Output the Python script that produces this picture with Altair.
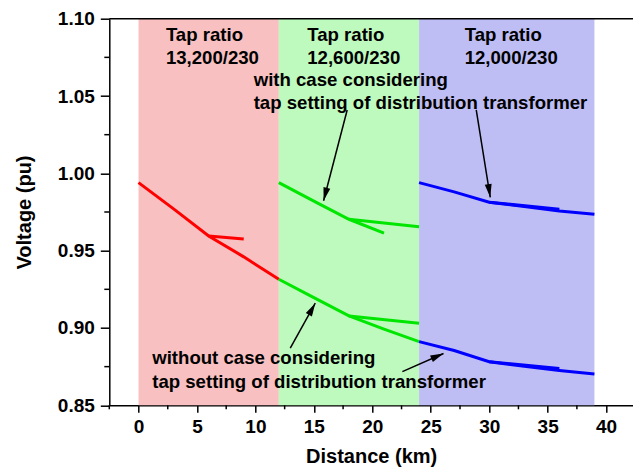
import math
import altair as alt
import pandas as pd

# ---------------- data ----------------
region_start = [0, 12, 24]
region_end = [12, 24, 39]
region_color = ["#F8C0C0", "#BEFABE", "#BEBEF5"]

red_main_x = [0, 3, 6, 9, 12]
red_main_v = [0.994, 0.977, 0.9595, 0.946, 0.9315]
red_branch_x = [6, 9]
red_branch_v = [0.9595, 0.9576]

green_up_main_x = [12, 15, 18, 21]
green_up_main_v = [0.994, 0.982, 0.9703, 0.9613]
green_up_branch_x = [18, 24]
green_up_branch_v = [0.9703, 0.9655]

green_lo_main_x = [12, 15, 18, 21, 24]
green_lo_main_v = [0.9315, 0.9196, 0.9078, 0.8993, 0.8912]
green_lo_branch_x = [18, 24]
green_lo_branch_v = [0.9078, 0.9031]

blue_up_main_x = [24, 27, 30, 33, 36, 39]
blue_up_main_v = [0.994, 0.988, 0.9813, 0.9785, 0.9757, 0.9735]
blue_up_branch_x = [30, 36]
blue_up_branch_v = [0.9813, 0.9768]

blue_lo_main_x = [24, 27, 30, 33, 36, 39]
blue_lo_main_v = [0.8912, 0.8854, 0.8782, 0.8752, 0.8725, 0.8703]
blue_lo_branch_x = [30, 36]
blue_lo_branch_v = [0.8782, 0.8738]

RED, GREEN, BLUE = "#FF0000", "#00E600", "#0000FF"

x_ticks = [0, 5, 10, 15, 20, 25, 30, 35, 40]
x_minor = [-2.5, 2.5, 7.5, 12.5, 17.5, 22.5, 27.5, 32.5, 37.5]
y_ticks = [0.85, 0.90, 0.95, 1.00, 1.05, 1.10]
y_minor = [0.875, 0.925, 0.975, 1.025, 1.075]

label_text = ["Tap ratio", "13,200/230", "Tap ratio", "12,600/230",
              "Tap ratio", "12,000/230",
              "with case considering", "tap setting of distribution transformer",
              "without case considering", "tap setting of distribution transformer"]
label_x = [2.34, 2.34, 14.43, 14.43, 27.9, 27.9, 9.85, 9.85, 1.17, 1.17]
label_v = [1.0853, 1.0704, 1.0853, 1.0704, 1.0853, 1.0704, 1.0568, 1.0413, 0.8768, 0.8612]

arrow_tail_x = [17.85, 28.89, 12.98, 22.57]
arrow_tail_v = [1.0410, 1.0410, 0.887, 0.8718]
arrow_tip_x = [15.83, 30.09, 15.12, 26.09]
arrow_tip_v = [0.9823, 0.9845, 0.916, 0.8835]

# ---------------- layout ----------------
X_MIN, X_MAX = -2.5, 42.3
Y_MIN, Y_MAX = 0.85, 1.10
PAD_L, PAD_T = 109.3, 18.7
W = 633 - PAD_L
H = 405.3 - PAD_T
PAD_B = 476 - PAD_T - H
FONT = "Liberation Sans"

xs = alt.Scale(domain=[X_MIN, X_MAX], nice=False, zero=False)
ys = alt.Scale(domain=[Y_MIN, Y_MAX], nice=False, zero=False)

# ---------------- tables ----------------
regions = pd.DataFrame({"x0": region_start, "x1": region_end, "col": region_color})

segs = [
    ("r_main", red_main_x, red_main_v, RED),
    ("r_br", red_branch_x, red_branch_v, RED),
    ("gu_main", green_up_main_x, green_up_main_v, GREEN),
    ("gu_br", green_up_branch_x, green_up_branch_v, GREEN),
    ("gl_main", green_lo_main_x, green_lo_main_v, GREEN),
    ("gl_br", green_lo_branch_x, green_lo_branch_v, GREEN),
    ("bu_main", blue_up_main_x, blue_up_main_v, BLUE),
    ("bu_br", blue_up_branch_x, blue_up_branch_v, BLUE),
    ("bl_main", blue_lo_main_x, blue_lo_main_v, BLUE),
    ("bl_br", blue_lo_branch_x, blue_lo_branch_v, BLUE),
]
rows = []
for name, xv, vv, c in segs:
    for a, b in zip(xv, vv):
        rows.append({"seg": name, "x": a, "v": b, "col": c})
lines = pd.DataFrame(rows)

labels = pd.DataFrame({"t": label_text, "x": label_x, "v": label_v})

px_km = W / (X_MAX - X_MIN)
px_v = H / (Y_MAX - Y_MIN)
angs = []
for tx, tv, hx, hv in zip(arrow_tail_x, arrow_tail_v, arrow_tip_x, arrow_tip_v):
    dx = (hx - tx) * px_km
    dy = -(hv - tv) * px_v
    angs.append(math.degrees(math.atan2(dx, -dy)) % 360)
arrows = pd.DataFrame({"tx": arrow_tail_x, "tv": arrow_tail_v,
                       "hx": arrow_tip_x, "hv": arrow_tip_v, "ang": angs})

xminor_df = pd.DataFrame({"m": x_minor})
yminor_df = pd.DataFrame({"m": y_minor})
top_df = pd.DataFrame({"v": [Y_MAX]})

# ---------------- layers ----------------
bg = alt.Chart(regions).mark_rect(opacity=1).encode(
    x=alt.X("x0:Q", scale=xs,
            axis=alt.Axis(values=x_ticks, title="Distance (km)", tickSize=7,
                          labelPadding=5, titlePadding=10, grid=False,
                          format="d")),
    x2="x1:Q",
    color=alt.Color("col:N", scale=None),
)

line_layer = alt.Chart(lines).mark_line(strokeWidth=3, strokeCap="butt").encode(
    x=alt.X("x:Q", scale=xs),
    y=alt.Y("v:Q", scale=ys,
            axis=alt.Axis(values=y_ticks, format=".2f", title="Voltage (pu)",
                          tickSize=9, labelPadding=6, titlePadding=23, grid=False)),
    detail="seg:N",
    color=alt.Color("col:N", scale=None),
)

text_layer = alt.Chart(labels).mark_text(
    align="left", baseline="alphabetic", font=FONT, fontWeight="bold",
    fontSize=18.6, color="black"
).encode(x=alt.X("x:Q", scale=xs), y=alt.Y("v:Q", scale=ys), text="t:N")

arrow_lines = alt.Chart(arrows).mark_rule(color="black", strokeWidth=1.5).encode(
    x=alt.X("tx:Q", scale=xs), y=alt.Y("tv:Q", scale=ys), x2="hx:Q", y2="hv:Q"
)

arrow_heads = alt.Chart(arrows).mark_point(
    shape="M0,0L0.45,1.7L-0.45,1.7Z", filled=True, color="black", opacity=1,
    size=240, strokeWidth=0
).encode(
    x=alt.X("hx:Q", scale=xs), y=alt.Y("hv:Q", scale=ys),
    angle=alt.Angle("ang:Q", scale=None),
)

xminor_layer = alt.Chart(xminor_df).mark_rule(color="black", strokeWidth=1.5).encode(
    x=alt.X("m:Q", scale=xs), y=alt.value(H), y2=alt.value(H + 4)
)
yminor_layer = alt.Chart(yminor_df).mark_rule(color="black", strokeWidth=1.5).encode(
    y=alt.Y("m:Q", scale=ys), x=alt.value(0), x2=alt.value(-5)
)
top_border = alt.Chart(top_df).mark_rule(color="black", strokeWidth=1.5).encode(
    y=alt.Y("v:Q", scale=ys)
)

chart = alt.layer(
    bg, line_layer, arrow_lines, arrow_heads, text_layer,
    xminor_layer, yminor_layer, top_border
).properties(
    width=W, height=H,
    padding={"left": PAD_L, "top": PAD_T, "right": 0, "bottom": PAD_B},
    autosize=alt.AutoSizeParams(type="none"),
    background="white",
).configure_view(
    stroke="transparent"
).configure_axis(
    domainColor="black", domainWidth=1.5, tickColor="black", tickWidth=1.5,
    labelFont=FONT, labelFontWeight="bold", labelFontSize=19, labelColor="black",
    titleFont=FONT, titleFontWeight="bold", titleFontSize=20, titleColor="black",
    labelOverlap=False, labelFlush=False,
)

chart.save("out.html", embed_options={"renderer": "svg", "actions": False})
